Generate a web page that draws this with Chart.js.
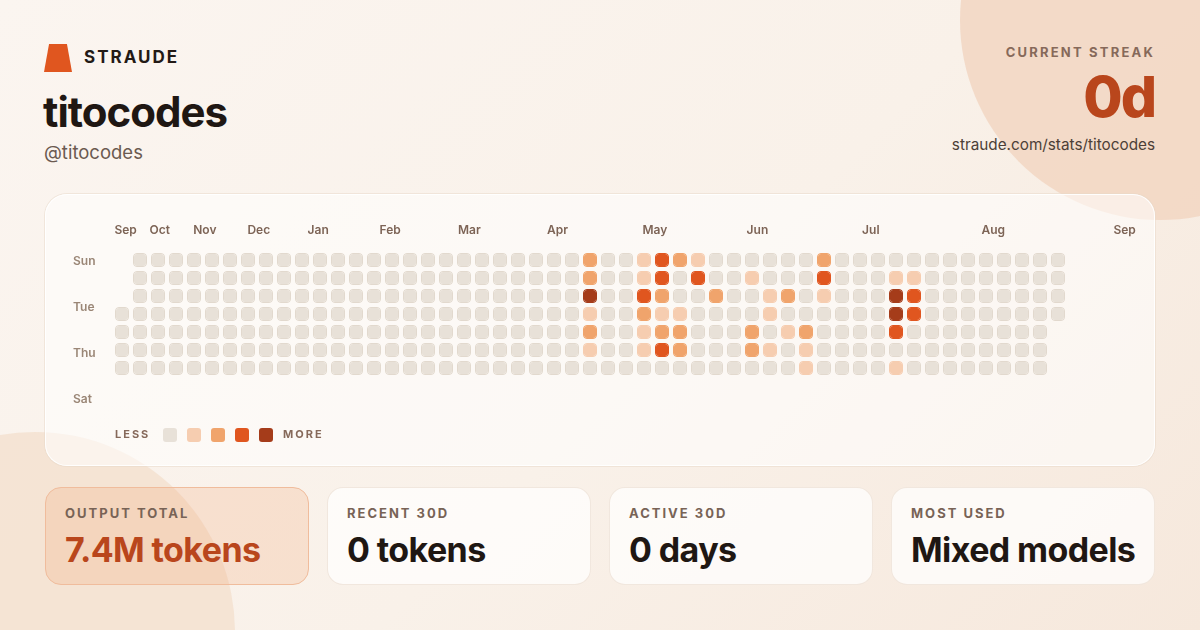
<!DOCTYPE html>
<html>
<head>
<meta charset="utf-8">
<script src="https://cdn.jsdelivr.net/npm/chart.js@4.4.1/dist/chart.umd.min.js"></script>
<style>
  html, body { margin: 0; padding: 0; }
  body {
    width: 1200px; height: 630px; overflow: hidden; position: relative;
    font-family: Inter, "Noto Sans", sans-serif;
    background: linear-gradient(135deg, #fbf5f0 0%, #f9f1e9 55%, #f6e8dc 100%);
  }
  .blob { position: absolute; border-radius: 50%; }
  .blob.tr { left: 960px; top: -180px; width: 400px; height: 400px; background: #f2d6c2; opacity: .85; }
  .blob.bl { left: -165px; top: 432px; width: 400px; height: 400px; background: #f4e2d2; opacity: .9; }
  .abs { position: absolute; white-space: nowrap; }
  .logo { left: 44px; top: 44px; width: 28px; height: 28px; background: #e0561f;
          clip-path: polygon(18% 0, 82% 0, 100% 100%, 0 100%); }
  .brand { left: 84px; top: 47px; font-size: 17px; font-weight: 700; letter-spacing: 2px; color: #231a15; }
  .name { left: 43px; top: 86px; font-size: 42px; font-weight: 700; letter-spacing: -1px; color: #1f1713; }
  .handle { left: 44px; top: 141px; font-size: 18.5px; color: #6b5a50; }
  .streakLbl { right: 45px; top: 44px; font-size: 13px; font-weight: 700; letter-spacing: 2.2px; color: #86695a; }
  .streak { right: 45px; top: 62px; font-size: 57px; font-weight: 800; letter-spacing: -2px; color: #b9461c; }
  .url { right: 45px; top: 135px; font-size: 15.3px; color: #4d3f37; }
  .card { position: absolute; left: 45px; top: 194px; width: 1110px; height: 272px; border-radius: 22px;
          background: rgba(255,255,255,.55); box-shadow: inset 0 0 0 1px rgba(255,255,255,.9), 0 0 0 1px rgba(232,215,200,.5); }
  #heat { position: absolute; left: 45px; top: 194px; }
  .stat { position: absolute; top: 487px; width: 264px; height: 98px; border-radius: 16px; box-sizing: border-box;
          background: rgba(255,255,255,.72); border: 1px solid rgba(240,228,218,.9); }
  .stat.hot { background: rgba(241,160,110,.22); border-color: #f0bc9c; }
  .stat .lbl { position: absolute; left: 19px; top: 17px; font-size: 13px; font-weight: 700; letter-spacing: 2px; color: #786356; }
  .stat .val { position: absolute; left: 19px; top: 41px; font-size: 34px; font-weight: 700; letter-spacing: -.6px; color: #1f1713; }
  .stat.hot .val { color: #b9461c; }
</style>
</head>
<body>
<div class="blob tr"></div>
<div class="blob bl"></div>
<div class="abs logo"></div>
<div class="abs brand">STRAUDE</div>
<div class="abs name">titocodes</div>
<div class="abs handle">@titocodes</div>
<div class="abs streakLbl">CURRENT STREAK</div>
<div class="abs streak">0d</div>
<div class="abs url">straude.com/stats/titocodes</div>

<div class="card"></div>
<canvas id="heat" width="1110" height="272"></canvas>

<div class="stat hot" style="left:45px"><div class="lbl">OUTPUT TOTAL</div><div class="val">7.4M tokens</div></div>
<div class="stat" style="left:327px"><div class="lbl">RECENT 30D</div><div class="val">0 tokens</div></div>
<div class="stat" style="left:609px"><div class="lbl">ACTIVE 30D</div><div class="val">0 days</div></div>
<div class="stat" style="left:891px"><div class="lbl">MOST USED</div><div class="val">Mixed models</div></div>

<script>
// activity level per week column (0..4), null = no cell
const weekSun = [null,0,0,0,0,0,0,0,0,0,0,0,0,0,0,0,0,0,0,0,0,0,0,0,0,0,2,0,0,1,3,2,1,0,0,0,0,0,0,2,0,0,0,0,0,0,0,0,0,0,0,0,0];
const weekMon = [null,0,0,0,0,0,0,0,0,0,0,0,0,0,0,0,0,0,0,0,0,0,0,0,0,0,2,0,0,1,3,0,3,0,0,1,0,0,0,3,0,0,0,1,1,0,0,0,0,0,0,0,0];
const weekTue = [null,0,0,0,0,0,0,0,0,0,0,0,0,0,0,0,0,0,0,0,0,0,0,0,0,0,4,0,0,3,2,0,0,2,0,0,1,2,0,1,0,0,0,4,3,0,0,0,0,0,0,0,0];
const weekWed = [0,0,0,0,0,0,0,0,0,0,0,0,0,0,0,0,0,0,0,0,0,0,0,0,0,0,1,0,0,2,1,1,0,0,0,0,1,0,0,0,0,0,0,4,3,0,0,0,0,0,0,0,0];
const weekThu = [0,0,0,0,0,0,0,0,0,0,0,0,0,0,0,0,0,0,0,0,0,0,0,0,0,0,2,0,0,1,2,2,0,0,0,2,0,1,2,0,0,0,0,3,0,0,0,0,0,0,0,0,null];
const weekFri = [0,0,0,0,0,0,0,0,0,0,0,0,0,0,0,0,0,0,0,0,0,0,0,0,0,0,1,0,0,1,3,2,0,0,0,2,1,0,1,0,0,0,0,0,0,0,0,0,0,0,0,0,null];
const weekSat = [0,0,0,0,0,0,0,0,0,0,0,0,0,0,0,0,0,0,0,0,0,0,0,0,0,0,0,0,0,0,0,0,0,0,0,0,0,0,1,0,0,0,0,1,0,0,0,0,0,0,0,0,null];
const weeks = [weekSun, weekMon, weekTue, weekWed, weekThu, weekFri, weekSat];

const monthLabels = ['Sep','Oct','Nov','Dec','Jan','Feb','Mar','Apr','May','Jun','Jul','Aug','Sep'];
const monthCols = [0.2, 2.1, 4.6, 7.6, 10.9, 14.9, 19.3, 24.2, 29.6, 35.3, 41.6, 48.4, 55.7];
const dayLabels = ['Sun','Tue','Thu','Sat'];
const dayRows = [0.6, 3.15, 5.7, 8.25];

const levelColors = ['#e8e1d8', '#f6cdb0', '#f0a46c', '#e0561f', '#a53c1a'];
const levelBorders = ['#e2d9ce', '#f6cdb0', '#f0a46c', '#e0561f', '#a53c1a'];

const columns = weekSun.map((_, i) => i);

const datasets = weeks.map((row, r) => ({
    data: row.map(v => v === null ? null : [r + 2 / 18, r + 16 / 18]),
    backgroundColor: row.map(v => v === null ? 'transparent' : levelColors[v]),
    borderColor: row.map(v => v === null ? 'transparent' : levelBorders[v]),
    borderWidth: 1,
    borderRadius: 4,
    borderSkipped: false,
    barPercentage: 14 / 18,
    categoryPercentage: 1
}));

const labelPlugin = {
    id: 'heatLabels',
    afterDraw(chart) {
        const ctx = chart.ctx;
        const xs = chart.scales.x, ys = chart.scales.y;
        ctx.save();
        ctx.font = '600 12px Inter, sans-serif';
        ctx.textBaseline = 'middle';
        ctx.textAlign = 'center';
        ctx.fillStyle = '#7d6456';
        monthLabels.forEach((m, i) => {
            ctx.fillText(m, xs.getPixelForValue(monthCols[i]), 36);
        });
        ctx.textAlign = 'left';
        ctx.fillStyle = '#9a8676';
        dayLabels.forEach((d, i) => {
            ctx.fillText(d, 28, ys.getPixelForValue(dayRows[i]));
        });
        // legend
        const ly = 241;
        ctx.font = '700 11px Inter, sans-serif';
        ctx.fillStyle = '#86695a';
        ctx.letterSpacing = '2px';
        ctx.fillText('LESS', 70, ly);
        levelColors.forEach((c, i) => {
            ctx.beginPath();
            ctx.roundRect(118 + i * 24, ly - 7, 14, 14, 3);
            ctx.fillStyle = c;
            ctx.fill();
        });
        ctx.fillStyle = '#86695a';
        ctx.fillText('MORE', 238, ly);
        ctx.restore();
    }
};

new Chart(document.getElementById('heat'), {
    type: 'bar',
    data: { labels: columns, datasets: datasets },
    options: {
        responsive: false,
        animation: false,
        events: [],
        layout: { padding: { left: 68, right: 88, top: 57, bottom: 89 } },
        plugins: { legend: { display: false }, tooltip: { enabled: false } },
        scales: {
            x: { stacked: true, display: false, grid: { display: false } },
            y: { type: 'linear', min: 0, max: 7, reverse: true, display: false }
        }
    },
    plugins: [labelPlugin]
});
</script>
</body>
</html>
